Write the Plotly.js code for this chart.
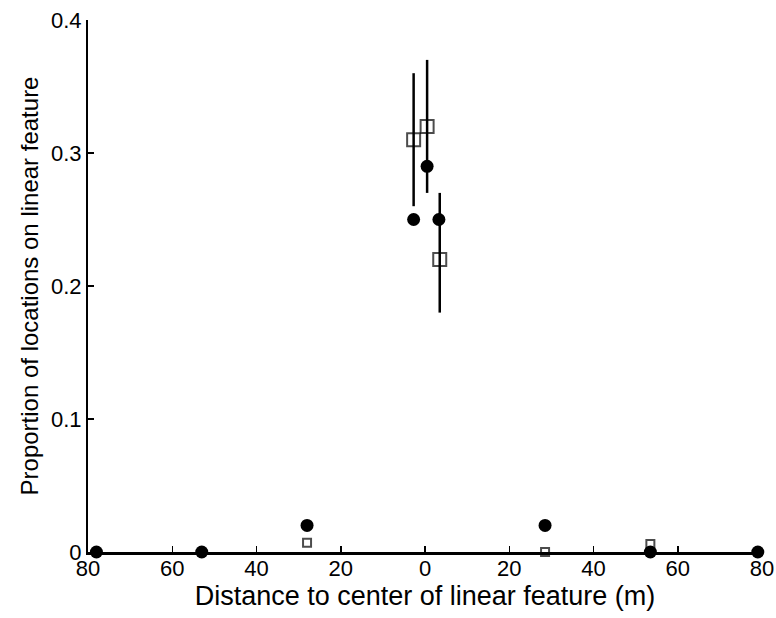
<!DOCTYPE html>
<html>
<head>
<meta charset="utf-8">
<script src="https://cdn.plot.ly/plotly-3.0.1.min.js"></script>
<style>html,body{margin:0;padding:0;background:#fff;}#chart{width:776px;height:618px;}</style>
</head>
<body>
<div id="chart"></div>
<script>
// Filled circles
const circleX = [-78, -53, -28, -2.7, 0.5, 3.3, 28.5, 53.5, 79];
const circleY = [0, 0, 0.02, 0.25, 0.29, 0.25, 0.02, 0, 0];
// Open squares
const squareX = [-28, -2.7, 0.5, 3.5, 28.5, 53.5];
const squareY = [0.007, 0.31, 0.32, 0.22, 0, 0.006];
const squareErrPlus = [0, 0.05, 0.05, 0.05, 0, 0];
const squareErrMinus = [0, 0.05, 0.05, 0.04, 0, 0];
const squareSize = [8, 13, 13, 13, 8, 8];
// Ticks
const xTickVals = [-80, -60, -40, -20, 0, 20, 40, 60, 80];
const xTickText = ['80', '60', '40', '20', '0', '20', '40', '60', '80'];
const yTickVals = [0, 0.1, 0.2, 0.3, 0.4];
const yTickText = ['0', '0.1', '0.2', '0.3', '0.4'];

const font = 'Liberation Sans, Arial, Helvetica, sans-serif';

const traces = [
  {
    x: squareX, y: squareY, type: 'scatter', mode: 'markers',
    marker: {symbol: 'square-open', size: squareSize, color: '#000', line: {width: 2, color: '#000'}},
    error_y: {type: 'data', symmetric: false, array: squareErrPlus, arrayminus: squareErrMinus,
              color: '#000', thickness: 2.5, width: 0},
    cliponaxis: false, showlegend: false
  },
  {
    x: circleX, y: circleY, type: 'scatter', mode: 'markers',
    marker: {symbol: 'circle', size: 13, color: '#000'},
    cliponaxis: false, showlegend: false
  }
];

const layout = {
  width: 776, height: 618,
  margin: {l: 88, r: 14, t: 20, b: 66},
  paper_bgcolor: '#fff', plot_bgcolor: '#fff',
  font: {family: font, color: '#000', size: 22},
  xaxis: {
    range: [-80, 80], tickvals: xTickVals, ticktext: xTickText,
    showgrid: false, zeroline: false, showline: true, linecolor: '#000', linewidth: 2.5,
    ticks: 'inside', ticklen: 6, tickwidth: 1.5, tickcolor: '#000',
    ticklabelstandoff: -5,
    tickfont: {size: 22, family: font},
    title: {text: 'Distance to center of linear feature (m)', font: {size: 27, family: font}, standoff: 0}
  },
  yaxis: {
    range: [0, 0.4], tickvals: yTickVals, ticktext: yTickText,
    showgrid: false, zeroline: false, showline: true, linecolor: '#000', linewidth: 2,
    ticks: 'inside', ticklen: 6, tickwidth: 1.5, tickcolor: '#000',
    tickfont: {size: 22, family: font},
    title: {text: 'Proportion of locations on linear feature', font: {size: 24, family: font}, standoff: 6}
  }
};

Plotly.newPlot('chart', traces, layout, {displayModeBar: false, staticPlot: true});
</script>
</body>
</html>
